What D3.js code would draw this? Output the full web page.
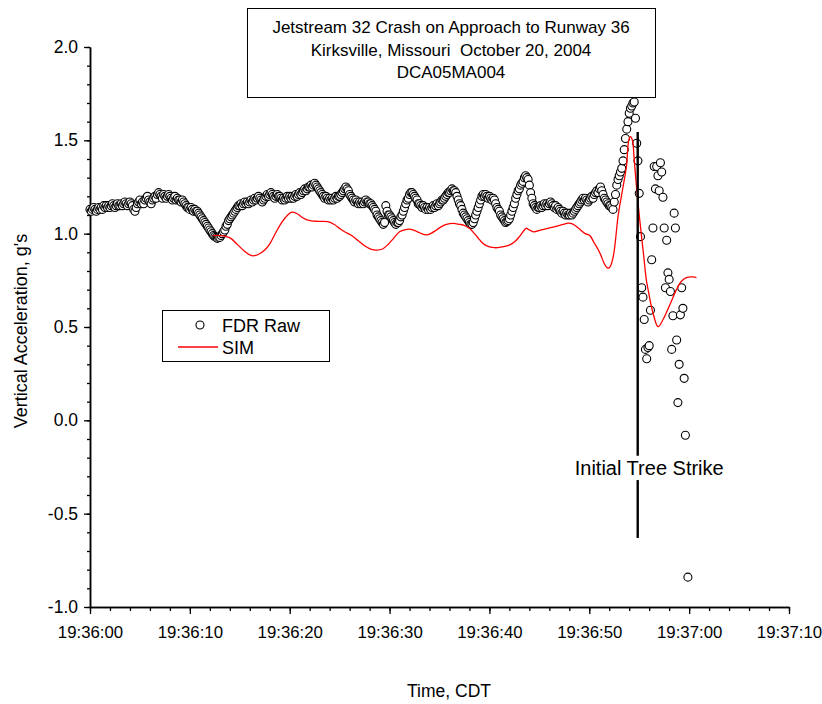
<!DOCTYPE html>
<html>
<head>
<meta charset="utf-8">
<script src="https://cdn.jsdelivr.net/npm/d3@7"></script>
<style>
  body { margin: 0; background: #fff; }
  svg { display: block; }
  text { font-family: "Liberation Sans", Arial, Helvetica, sans-serif; fill: #000; }
</style>
</head>
<body>
<svg id="chart" width="822" height="704"></svg>
<script>
// ---- chart data -------------------------------------------------------
const titleLines = [
  "Jetstream 32 Crash on Approach to Runway 36",
  "Kirksville, Missouri  October 20, 2004",
  "DCA05MA004"
];
const xTickSeconds = [0, 10, 20, 30, 40, 50, 60, 70];
const xTickLabels = ["19:36:00", "19:36:10", "19:36:20", "19:36:30",
                     "19:36:40", "19:36:50", "19:37:00", "19:37:10"];
const yTicks = [-1.0, -0.5, 0.0, 0.5, 1.0, 1.5, 2.0];
const yTickLabels = ["-1.0", "-0.5", "0.0", "0.5", "1.0", "1.5", "2.0"];
const seriesNames = ["FDR Raw", "SIM"];

// FDR vertical acceleration (g), 8 samples per second starting 19:36:00
const fdrStep = 0.125;
const fdrRaw = [
  1.13,1.12,1.13,1.14,1.13,1.12,1.13,1.14,
  1.13,1.14,1.13,1.15,1.14,1.15,1.14,1.15,
  1.14,1.15,1.16,1.15,1.14,1.15,1.16,1.15,
  1.15,1.16,1.15,1.16,1.17,1.16,1.15,1.16,
  1.17,1.16,1.15,1.13,1.12,1.14,1.16,1.17,
  1.18,1.16,1.17,1.16,1.18,1.19,1.20,1.18,
  1.17,1.16,1.18,1.19,1.20,1.19,1.21,1.22,
  1.21,1.20,1.19,1.21,1.20,1.19,1.20,1.21,
  1.20,1.19,1.18,1.19,1.20,1.18,1.19,1.18,
  1.18,1.17,1.18,1.17,1.16,1.15,1.14,1.14,
  1.13,1.14,1.13,1.12,1.13,1.12,1.12,1.11,
  1.10,1.09,1.08,1.07,1.06,1.05,1.04,1.03,
  1.02,1.01,1.00,0.99,0.985,0.98,0.975,0.98,
  0.98,0.99,1.00,1.01,1.02,1.04,1.05,1.07,
  1.08,1.09,1.10,1.11,1.12,1.13,1.14,1.15,
  1.15,1.16,1.15,1.16,1.17,1.16,1.17,1.16,
  1.17,1.18,1.17,1.18,1.19,1.18,1.19,1.20,
  1.19,1.18,1.17,1.18,1.19,1.20,1.21,1.20,
  1.21,1.22,1.21,1.20,1.19,1.20,1.21,1.20,
  1.20,1.19,1.18,1.19,1.18,1.19,1.20,1.19,
  1.20,1.19,1.20,1.19,1.20,1.21,1.20,1.21,
  1.22,1.21,1.22,1.23,1.24,1.23,1.24,1.25,
  1.25,1.26,1.25,1.26,1.27,1.26,1.25,1.24,
  1.23,1.22,1.21,1.20,1.19,1.20,1.19,1.18,
  1.19,1.18,1.19,1.18,1.19,1.20,1.19,1.20,
  1.20,1.21,1.22,1.23,1.24,1.25,1.24,1.23,
  1.21,1.20,1.19,1.18,1.17,1.18,1.17,1.16,
  1.17,1.16,1.17,1.16,1.17,1.18,1.17,1.17,
  1.16,1.16,1.15,1.14,1.13,1.12,1.10,1.09,
  1.08,1.07,1.06,1.05,1.06,1.15,1.12,1.10,
  1.10,1.09,1.08,1.07,1.06,1.05,1.06,1.06,
  1.07,1.09,1.10,1.12,1.14,1.16,1.18,1.19,
  1.21,1.22,1.22,1.21,1.20,1.19,1.18,1.16,
  1.16,1.15,1.14,1.15,1.14,1.13,1.14,1.13,
  1.14,1.13,1.14,1.15,1.14,1.15,1.16,1.15,
  1.16,1.17,1.18,1.18,1.19,1.20,1.21,1.22,
  1.22,1.23,1.24,1.23,1.23,1.22,1.20,1.18,
  1.16,1.15,1.13,1.11,1.10,1.09,1.08,1.07,
  1.06,1.05,1.05,1.06,1.08,1.10,1.12,1.14,
  1.16,1.18,1.20,1.21,1.20,1.21,1.20,1.19,
  1.20,1.19,1.18,1.19,1.18,1.16,1.14,1.13,
  1.12,1.10,1.09,1.08,1.07,1.06,1.065,1.07,
  1.08,1.10,1.12,1.14,1.16,1.19,1.21,1.23,
  1.24,1.26,1.27,1.28,1.30,1.31,1.30,1.29,
  1.26,1.22,1.19,1.16,1.15,1.14,1.13,1.14,
  1.14,1.15,1.14,1.15,1.16,1.15,1.16,1.15,
  1.16,1.17,1.16,1.15,1.14,1.15,1.13,1.14,
  1.13,1.12,1.11,1.12,1.11,1.10,1.11,1.10,
  1.10,1.11,1.10,1.11,1.12,1.13,1.14,1.15,
  1.16,1.17,1.18,1.19,1.18,1.19,1.18,1.17,
  1.18,1.19,1.20,1.19,1.21,1.22,1.23,1.22,
  1.24,1.25,1.23,1.21,1.19,1.18,1.17,1.16,
  1.15,1.15,1.14,1.13,1.17,1.21,1.26,1.29,
  1.31,1.33,1.35,1.39,1.45,1.51,1.56,1.60,
  1.645,1.672,1.684,1.70,1.705,1.618,1.484,1.39,
  1.216,0.984,0.71,0.66,0.54,0.38,0.33,0.39,
  0.40,0.59,0.86,1.03,1.36,1.24,1.36,1.31,
  1.23,1.38,1.33,1.195,1.03,0.71,0.965,0.79,
  0.755,0.69,0.38,0.56,1.11,1.03,0.43,0.095,
  0.30,0.565,0.71,0.60,0.225,-0.08,null,-0.84
];

// Simulation output: time (s after 19:36:00) and vertical acceleration (g)
const simTime = [12.3, 13.0, 13.6, 14.1, 14.8, 15.5, 16.2, 16.8, 17.5, 18.0,
  18.6, 19.2, 19.8, 20.2, 20.7, 21.3, 21.8, 22.8, 23.8, 24.5, 25.0, 25.5,
  26.2, 26.8, 27.5, 28.1, 28.7, 29.3, 29.9, 30.4, 31.0, 31.6, 32.0, 32.6,
  33.0, 33.7, 34.2, 34.7, 35.2, 35.7, 36.4, 37.0, 37.4, 38.0, 38.5, 38.9,
  39.3, 39.8, 40.5, 41.0, 41.5, 42.0, 42.5, 43.0, 43.5, 43.7, 44.0, 44.4,
  45.2, 45.9, 46.6, 47.3, 47.9, 48.4, 48.9, 49.6, 50.05, 50.5, 51.05, 51.5,
  51.8, 52.05, 52.4, 52.9, 53.38, 53.72, 53.95, 54.12, 54.32, 54.48, 54.73,
  55.06, 55.39, 55.72, 55.89, 56.39, 56.89, 57.39, 58.06, 58.73, 59.23,
  59.73, 60.39, 60.73];
const simG = [0.99, 0.99, 0.985, 0.975, 0.94, 0.905, 0.882, 0.887, 0.912, 0.945,
  1.005, 1.06, 1.10, 1.115, 1.108, 1.085, 1.073, 1.066, 1.064, 1.048, 1.028, 1.01,
  0.99, 0.965, 0.935, 0.917, 0.912, 0.918, 0.945, 0.975, 1.01, 1.022, 1.024, 1.015,
  1.005, 0.993, 1.003, 1.02, 1.038, 1.05, 1.055, 1.05, 1.046, 1.029, 1.0, 0.975,
  0.95, 0.933, 0.925, 0.926, 0.932, 0.939, 0.955, 0.984, 1.02, 1.029, 1.02, 1.01,
  1.02, 1.03, 1.038, 1.048, 1.056, 1.05, 1.03, 1.0, 0.99, 0.95, 0.898, 0.84,
  0.817, 0.82, 0.877, 1.10, 1.25, 1.36, 1.50, 1.52, 1.50, 1.41, 1.25,
  1.07, 0.91, 0.75, 0.70, 0.573, 0.502, 0.54, 0.618, 0.70, 0.745,
  0.765, 0.768, 0.765];

// Tree-strike marker: time and the g-range the marker line spans
const strikeLabel = "Initial Tree Strike";
const strikeTime = 54.85;
const strikeSpan = [1.545, -0.19, -0.32, -0.63];

// ---- drawing ------------------------------------------------------------
const FONT = '"Liberation Sans", Arial, sans-serif';
const svg = d3.select("#chart");
const x = d3.scaleLinear().domain([0, 70]).range([90, 789]);
const y = d3.scaleLinear().domain([-1, 2]).range([607, 47]);

function styleAxis(g) {
  g.select(".domain").attr("stroke", "#000").attr("stroke-width", 1.5);
  g.selectAll(".tick line").attr("stroke", "#000").attr("stroke-width", 1.3);
}

// x axis: minor ticks every 2 s, major every 10 s
svg.append("g").attr("transform", `translate(0,${y(-1)})`)
  .call(d3.axisBottom(x).tickValues(d3.range(0, 71, 2)).tickSize(4).tickFormat("").tickSizeOuter(0))
  .call(styleAxis);
const xMajor = svg.append("g").attr("transform", `translate(0,${y(-1)})`)
  .call(d3.axisBottom(x).tickValues(xTickSeconds).tickSize(7).tickPadding(12)
        .tickFormat((d, i) => xTickLabels[i]).tickSizeOuter(0))
  .call(styleAxis);
xMajor.selectAll("text").attr("font-size", 16.8).style("font-family", FONT);

// y axis: minor ticks every 0.1 g, major every 0.5 g
svg.append("g").attr("transform", `translate(${x(0)},0)`)
  .call(d3.axisLeft(y).tickValues(d3.range(-10, 21, 1).map(v => v / 10)).tickSize(3).tickFormat("").tickSizeOuter(0))
  .call(styleAxis);
const yMajor = svg.append("g").attr("transform", `translate(${x(0)},0)`)
  .call(d3.axisLeft(y).tickValues(yTicks).tickSize(6).tickPadding(6)
        .tickFormat((d, i) => yTickLabels[i]).tickSizeOuter(0))
  .call(styleAxis);
yMajor.selectAll("text").attr("font-size", 17.5).style("font-family", FONT);

// axis titles
svg.append("text")
  .attr("transform", `translate(27,${(y(2) + y(-1)) / 2 + 4}) rotate(-90)`)
  .attr("text-anchor", "middle").attr("font-size", 18)
  .text("Vertical Acceleration, g's");
svg.append("text")
  .attr("x", 449).attr("y", 697)
  .attr("text-anchor", "middle").attr("font-size", 17.5)
  .text("Time, CDT");

// title box
const titleG = svg.append("g");
titleG.append("rect").attr("x", 247.5).attr("y", 8.5).attr("width", 408).attr("height", 89)
  .attr("fill", "#fff").attr("stroke", "#000").attr("stroke-width", 1);
titleG.selectAll("text").data(titleLines).join("text")
  .attr("x", 451).attr("y", (d, i) => 33 + i * 22.5)
  .attr("text-anchor", "middle").attr("font-size", 17)
  .style("white-space", "pre")
  .text(d => d);

// FDR samples as open circles
const fdrPoints = fdrRaw.map((v, i) => ({ t: i * fdrStep, v })).filter(d => d.v !== null);
svg.append("g").selectAll("circle").data(fdrPoints).join("circle")
  .attr("cx", d => x(d.t)).attr("cy", d => y(d.v)).attr("r", 4)
  .attr("fill", "#fff").attr("stroke", "#000").attr("stroke-width", 1.1);

// simulation curve
const simData = simTime.map((t, i) => ({ t, v: simG[i] }));
svg.append("path").datum(simData)
  .attr("fill", "none").attr("stroke", "#ff0000").attr("stroke-width", 1.3)
  .attr("d", d3.line().x(d => x(d.t)).y(d => y(d.v)).curve(d3.curveCatmullRom.alpha(0.5)));

// tree-strike marker
const strikeG = svg.append("g");
[[strikeSpan[0], strikeSpan[1]], [strikeSpan[2], strikeSpan[3]]].forEach(([a, b]) => {
  strikeG.append("line")
    .attr("x1", x(strikeTime)).attr("x2", x(strikeTime))
    .attr("y1", y(a)).attr("y2", y(b))
    .attr("stroke", "#000").attr("stroke-width", 2.4);
});
strikeG.append("text")
  .attr("x", x(strikeTime) + 11.5).attr("y", y((strikeSpan[1] + strikeSpan[2]) / 2) + 7)
  .attr("text-anchor", "middle").attr("font-size", 20)
  .text(strikeLabel);

// legend
const legend = svg.append("g");
legend.append("rect").attr("x", 162.5).attr("y", 310.5).attr("width", 167).attr("height", 51)
  .attr("fill", "#fff").attr("stroke", "#000").attr("stroke-width", 1);
legend.append("circle").attr("cx", 200).attr("cy", 325).attr("r", 4)
  .attr("fill", "#fff").attr("stroke", "#000").attr("stroke-width", 1.1);
legend.append("line").attr("x1", 178).attr("x2", 218).attr("y1", 347).attr("y2", 347)
  .attr("stroke", "#ff0000").attr("stroke-width", 1.3);
legend.selectAll("text.lg").data(seriesNames).join("text")
  .attr("class", "lg")
  .attr("x", 222).attr("y", (d, i) => 332 + i * 22)
  .attr("font-size", 18)
  .text(d => d);
</script>
</body>
</html>
